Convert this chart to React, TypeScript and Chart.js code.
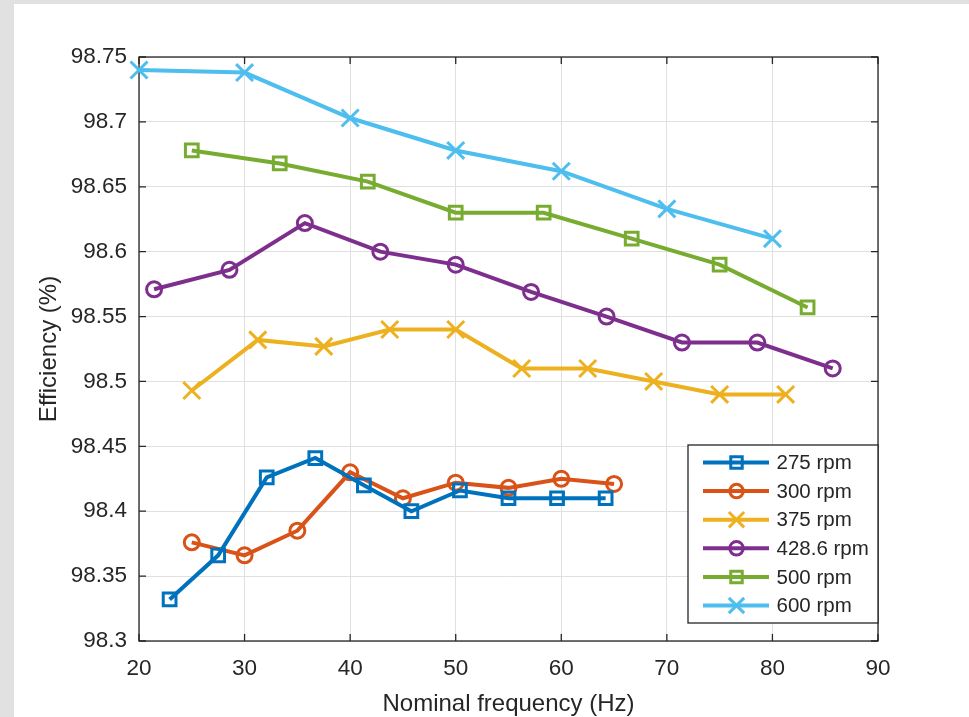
import React, { useEffect, useRef } from "react";
import { Chart, registerables } from "chart.js";

Chart.register(...registerables);

// ---- data ----
const seriesLabels = ["275 rpm", "300 rpm", "375 rpm", "428.6 rpm", "500 rpm", "600 rpm"];

const freq275 = [22.9, 27.5, 32.1, 36.7, 41.3, 45.8, 50.4, 55.0, 59.6, 64.2];
const eff275 = [98.332, 98.366, 98.426, 98.441, 98.42, 98.4, 98.416, 98.41, 98.41, 98.41];

const freq300 = [25, 30, 35, 40, 45, 50, 55, 60, 65];
const eff300 = [98.376, 98.366, 98.385, 98.43, 98.41, 98.422, 98.418, 98.425, 98.421];

const freq375 = [25, 31.25, 37.5, 43.75, 50, 56.25, 62.5, 68.75, 75, 81.25];
const eff375 = [98.493, 98.532, 98.527, 98.54, 98.54, 98.51, 98.51, 98.5, 98.49, 98.49];

const freq428 = [21.43, 28.57, 35.71, 42.86, 50, 57.14, 64.29, 71.43, 78.57, 85.71];
const eff428 = [98.571, 98.586, 98.622, 98.6, 98.59, 98.569, 98.55, 98.53, 98.53, 98.51];

const freq500 = [25, 33.33, 41.67, 50, 58.33, 66.67, 75, 83.33];
const eff500 = [98.678, 98.668, 98.654, 98.63, 98.63, 98.61, 98.59, 98.557];

const freq600 = [20, 30, 40, 50, 60, 70, 80];
const eff600 = [98.74, 98.738, 98.703, 98.678, 98.662, 98.633, 98.61];

const xTicks = [20, 30, 40, 50, 60, 70, 80, 90];
const yTicks = [98.3, 98.35, 98.4, 98.45, 98.5, 98.55, 98.6, 98.65, 98.7, 98.75];

const xTitle = "Nominal frequency (Hz)";
const yTitle = "Efficiency (%)";

// ---- styles ----
const colors = ["#0072BD", "#D95319", "#EDB120", "#7E2F8E", "#77AC30", "#4DBEEE"];
const markers = ["rect", "circle", "crossRot", "circle", "rect", "crossRot"];
const markerRadius: Record<string, number> = { rect: 9, circle: 7.5, crossRot: 12 };
const FONT = "'Liberation Sans', Arial, Helvetica, sans-serif";
const TEXT = "#262626";
const LINE_W = 4;
const MARK_W = 3;

function zip(xs: number[], ys: number[]) {
  return xs.map((x, i) => ({ x, y: ys[i] }));
}

function drawMarker(ctx: CanvasRenderingContext2D, style: string, x: number, y: number, color: string) {
  const r = markerRadius[style] * 0.9;
  ctx.save();
  ctx.strokeStyle = color;
  ctx.lineWidth = MARK_W;
  ctx.beginPath();
  if (style === "rect") {
    const s = Math.SQRT1_2 * r;
    ctx.rect(x - s, y - s, 2 * s, 2 * s);
  } else if (style === "circle") {
    ctx.arc(x, y, r, 0, Math.PI * 2);
  } else {
    const o = Math.SQRT1_2 * r;
    ctx.moveTo(x - o, y - o);
    ctx.lineTo(x + o, y + o);
    ctx.moveTo(x + o, y - o);
    ctx.lineTo(x - o, y + o);
  }
  ctx.stroke();
  ctx.restore();
}

const boxPlugin = {
  id: "matlabBox",
  beforeDatasetsDraw(chart: any) {
    const { ctx, chartArea, scales } = chart;
    const { left, right, top, bottom } = chartArea;
    ctx.save();
    ctx.strokeStyle = TEXT;
    ctx.lineWidth = 1.3;
    ctx.strokeRect(left, top, right - left, bottom - top);
    const tl = 7;
    ctx.beginPath();
    for (const v of xTicks) {
      const px = scales.x.getPixelForValue(v);
      ctx.moveTo(px, bottom);
      ctx.lineTo(px, bottom - tl);
      ctx.moveTo(px, top);
      ctx.lineTo(px, top + tl);
    }
    for (const v of yTicks) {
      const py = scales.y.getPixelForValue(v);
      ctx.moveTo(left, py);
      ctx.lineTo(left + tl, py);
      ctx.moveTo(right, py);
      ctx.lineTo(right - tl, py);
    }
    ctx.stroke();
    ctx.restore();
  },
  afterDraw(chart: any) {
    const { ctx, chartArea } = chart;
    const bw = 190;
    const bh = 178;
    const bx = chartArea.right - bw;
    const by = chartArea.bottom - 18 - bh;
    ctx.save();
    ctx.fillStyle = "#ffffff";
    ctx.fillRect(bx, by, bw, bh);
    ctx.strokeStyle = TEXT;
    ctx.lineWidth = 1.3;
    ctx.strokeRect(bx, by, bw, bh);
    ctx.font = `20.5px ${FONT}`;
    ctx.textBaseline = "middle";
    ctx.textAlign = "left";
    seriesLabels.forEach((lab, i) => {
      const cy = by + 17.5 + i * 28.6;
      ctx.strokeStyle = colors[i];
      ctx.lineWidth = LINE_W;
      ctx.beginPath();
      ctx.moveTo(bx + 15, cy);
      ctx.lineTo(bx + 81, cy);
      ctx.stroke();
      drawMarker(ctx, markers[i], bx + 48.5, cy, colors[i]);
      ctx.fillStyle = TEXT;
      ctx.fillText(lab, bx + 88.5, cy + 1);
    });
    ctx.restore();
  },
};

export default function App() {
  const ref = useRef<HTMLCanvasElement | null>(null);

  useEffect(() => {
    if (!ref.current) return;
    const xs = [freq275, freq300, freq375, freq428, freq500, freq600];
    const ys = [eff275, eff300, eff375, eff428, eff500, eff600];
    const chart = new Chart(ref.current, {
      type: "line",
      data: {
        datasets: seriesLabels.map((label, i) => ({
          label,
          data: zip(xs[i], ys[i]),
          borderColor: colors[i],
          backgroundColor: colors[i],
          borderWidth: LINE_W,
          pointStyle: markers[i] as any,
          pointRadius: markerRadius[markers[i]],
          pointHoverRadius: markerRadius[markers[i]],
          pointBorderWidth: MARK_W,
          pointBorderColor: colors[i],
          pointBackgroundColor: "rgba(0,0,0,0)",
          tension: 0,
          fill: false,
          clip: false as any,
        })),
      },
      options: {
        animation: false,
        responsive: false,
        devicePixelRatio: 1,
        layout: { padding: { top: 53, right: 91, left: 0, bottom: 0 } },
        plugins: {
          legend: { display: false },
          tooltip: { enabled: false },
        },
        scales: {
          x: {
            type: "linear",
            min: 20,
            max: 90,
            afterBuildTicks: (s: any) => {
              s.ticks = xTicks.map((v) => ({ value: v }));
            },
            afterFit: (s: any) => {
              s.height = 76;
            },
            grid: { color: "#e0e0e0", lineWidth: 1, drawTicks: false },
            border: { display: false },
            ticks: {
              color: TEXT,
              padding: 14,
              font: { family: FONT, size: 22.5 },
              callback: (v: any) => String(v),
            },
            title: {
              display: true,
              text: xTitle,
              color: TEXT,
              font: { family: FONT, size: 24, lineHeight: 1 },
              padding: { top: 0, bottom: 0.5 },
            },
          },
          y: {
            type: "linear",
            min: 98.3,
            max: 98.75,
            afterBuildTicks: (s: any) => {
              s.ticks = yTicks.map((v) => ({ value: v }));
            },
            afterFit: (s: any) => {
              s.width = 125;
            },
            grid: { color: "#e0e0e0", lineWidth: 1, drawTicks: false },
            border: { display: false },
            ticks: {
              color: TEXT,
              padding: 12,
              font: { family: FONT, size: 22.5 },
              callback: (v: any) => String(Math.round(v * 100) / 100),
            },
            title: {
              display: true,
              text: yTitle,
              color: TEXT,
              font: { family: FONT, size: 24, lineHeight: 1 },
              padding: { top: 23.5, bottom: 0 },
            },
          },
        },
      },
      plugins: [boxPlugin],
    });
    return () => chart.destroy();
  }, []);

  return (
    <div
      style={{
        position: "fixed",
        left: 0,
        top: 0,
        width: 969,
        height: 717,
        background: "#e1e1e1",
        overflow: "hidden",
      }}
    >
      <div
        style={{
          position: "absolute",
          left: 14,
          top: 4,
          width: 955,
          height: 713,
          background: "#ffffff",
        }}
      >
        <canvas ref={ref} width={955} height={713} style={{ display: "block" }} />
      </div>
    </div>
  );
}
